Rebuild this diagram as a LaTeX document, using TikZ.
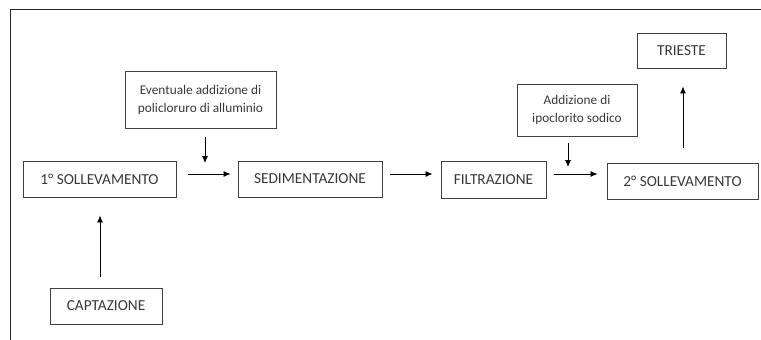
\documentclass[tikz,border=0pt]{standalone}
\usepackage{fontspec}
\setmainfont{Carlito}
\usepackage{xcolor}
\usetikzlibrary{arrows.meta, positioning, calc}

\definecolor{boxline}{HTML}{404040}
\definecolor{boxtext}{HTML}{383838}

\begin{document}
\begin{tikzpicture}[
    x=1pt, y=-1pt,
    stp/.style={rectangle, draw=boxline, line width=0.9pt, text=boxtext, inner sep=0pt, font=\fontsize{15.3}{17}\selectfont},
    note/.style={stp, align=center, font=\fontsize{13.3}{18}\selectfont},
    arrow/.style={-{Latex[length=7pt, width=6pt]}, line width=0.8pt, black},
]
\useasboundingbox (0,0) rectangle (761,340);
% frame
\draw[line width=1pt, black!85] (10,340) -- (10,9) -- (761,9);

\node[stp, minimum width=153pt, minimum height=36pt] (soll1) at (99.5,179) {1° SOLLEVAMENTO};
\node[stp, minimum width=144pt, minimum height=36pt] (sedim) at (310,179) {SEDIMENTAZIONE};
\node[stp, minimum width=105pt, minimum height=37pt] (filtr) at (493.5,179.5) {FILTRAZIONE};
\node[stp, minimum width=151pt, minimum height=36pt] (soll2) at (682.5,181) {2° SOLLEVAMENTO};
\node[stp, minimum width=112pt, minimum height=36pt] (capt) at (106,306) {CAPTAZIONE};
\node[stp, minimum width=89pt, minimum height=35pt] (trieste) at (681.5,50.5) {TRIESTE};
\node[note, minimum width=151pt, minimum height=57pt] (pac) at (200.5,99.5) {Eventuale addizione di\\policloruro di alluminio};
\node[note, minimum width=120pt, minimum height=52pt] (ipo) at (577,110) {Addizione di\\ipoclorito sodico};

\coordinate (j1) at (205,163);
\coordinate (j2) at (568,167);
\coordinate (up1) at (100,0);
\coordinate (up2) at (683,0);

\draw[arrow, shorten <=12pt, shorten >=7pt] ([yshift=5pt]soll1.east) -- ([yshift=5pt]sedim.west);
\draw[arrow, shorten <=8pt, shorten >=8pt] ([yshift=5pt]sedim.east) -- ([yshift=5.5pt]filtr.west);
\draw[arrow, shorten <=8pt, shorten >=9pt] ([yshift=5.5pt]filtr.east) -- ([yshift=7pt]soll2.west);
\draw[arrow, shorten <=11pt, shorten >=18pt] (capt.north -| up1) -- (soll1.south -| up1);
\draw[arrow, shorten <=15pt, shorten >=18pt] (soll2.north -| up2) -- (trieste.south -| up2);
\draw[arrow, shorten <=9pt] (pac.south -| j1) -- (j1);
\draw[arrow, shorten <=7pt] (ipo.south -| j2) -- (j2);
\end{tikzpicture}
\end{document}
